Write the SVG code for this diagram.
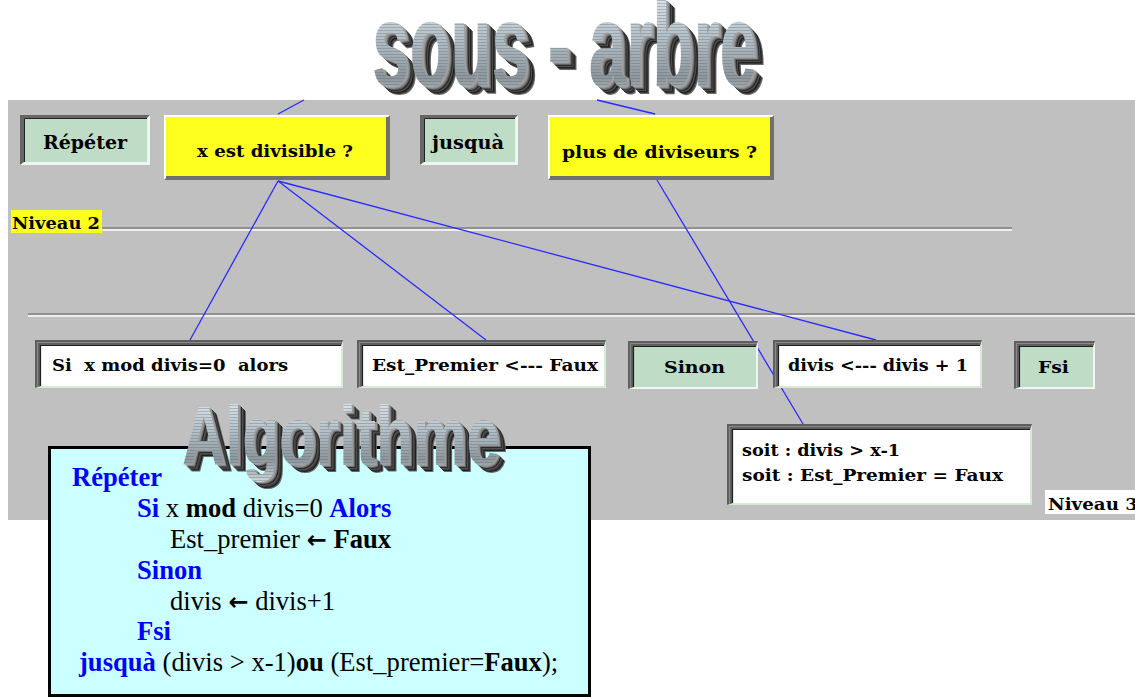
<svg xmlns="http://www.w3.org/2000/svg" width="1135" height="697" viewBox="0 0 1135 697">
<style>
.bx{font-family:"DejaVu Serif","Liberation Serif",serif;font-weight:bold;fill:#000}
.code{font-family:"Liberation Serif","Times New Roman",serif;font-size:26.6px;fill:#000}
.kw{fill:#0000ff;font-weight:bold}
.b{font-weight:bold}
.arr{font-family:"DejaVu Sans",sans-serif;font-weight:bold;font-size:24px}
.dark{fill:#666}
.lite{fill:#eef7ee}
.conn line{stroke:#2a2aff;stroke-width:1.3}
.wa{font-family:"Liberation Sans",Arial,sans-serif;font-weight:bold}
</style>
<defs>
<linearGradient id="metal" x1="0" y1="0" x2="0" y2="1">
<stop offset="0" stop-color="#eef3f6"/>
<stop offset="0.45" stop-color="#b4c0c8"/>
<stop offset="0.75" stop-color="#8c969c"/>
<stop offset="1" stop-color="#d4dce0"/>
</linearGradient>
<pattern id="stripes" width="4" height="3" patternUnits="userSpaceOnUse">
<rect width="4" height="1" fill="#5a6670" fill-opacity="0.35"/>
</pattern>
<text id="t1" class="wa" x="372" y="86" font-size="118" textLength="385" lengthAdjust="spacingAndGlyphs">sous - arbre</text>
<text id="t2" class="wa" x="182" y="465" font-size="84" textLength="318" lengthAdjust="spacingAndGlyphs">Algorithme</text>
</defs>
<rect width="1135" height="697" fill="#fff"/>
<rect x="8" y="100" width="1127" height="420" fill="#c0c0c0"/>

<g id="separators">
<line x1="102" y1="228" x2="1012" y2="228" stroke="#808080" stroke-width="1.5"/>
<line x1="102" y1="230" x2="1012" y2="230" stroke="#fff" stroke-width="1.5"/>
<line x1="28" y1="314" x2="1135" y2="314" stroke="#808080" stroke-width="1.5"/>
<line x1="28" y1="316" x2="1135" y2="316" stroke="#fff" stroke-width="1.5"/>
</g>

<g id="connectors" class="conn">
<line x1="278" y1="114" x2="304" y2="100"/>
<line x1="597" y1="100" x2="655" y2="114"/>
<line x1="278" y1="181" x2="190" y2="340"/>
<line x1="278" y1="181" x2="486" y2="340"/>
<line x1="278" y1="181" x2="876" y2="340"/>
<line x1="657" y1="180" x2="803" y2="424"/>
</g>

<g id="title">
<use href="#t1" x="9" y="8" fill="#6a6a6a"/>
<use href="#t1" x="8" y="7" fill="#3a3a3a"/>
<use href="#t1" x="7" y="6" fill="#202020"/>
<use href="#t1" x="6" y="5" fill="#505050"/>
<use href="#t1" x="5" y="4" fill="#2a2a2a"/>
<use href="#t1" x="4" y="3" fill="#606060"/>
<use href="#t1" x="3" y="2" fill="#8a8a8a"/>
<use href="#t1" x="2" y="1" fill="#a0a0a0"/>
<use href="#t1" fill="url(#metal)"/>
<use href="#t1" fill="url(#stripes)"/>
</g>

<g id="n-repeter">
<rect x="20" y="115" width="130" height="50" class="lite"/>
<path d="M20,115H150L147,118H24V162L20,165Z" class="dark"/>
<rect x="24" y="118" width="123" height="44" fill="#bfdcc6"/>
<path d="M24.5,162V118.5H147" fill="none" stroke="#222" stroke-width="1"/>
<text class="bx" x="43" y="149" font-size="18" textLength="84" lengthAdjust="spacingAndGlyphs">Répéter</text>
</g>

<g id="n-divisible">
<rect x="164" y="115" width="226" height="65" fill="#707070"/>
<path d="M164,115H390L388,117H166V178L164,180Z" fill="#fff"/>
<rect x="166" y="117" width="220" height="59" fill="#ffff1e"/>
<text class="bx" x="197" y="157" font-size="17" textLength="156" lengthAdjust="spacingAndGlyphs">x est divisible ?</text>
</g>

<g id="n-jusqua">
<rect x="420" y="115" width="98" height="50" class="lite"/>
<path d="M420,115H518L515,118H424V162L420,165Z" class="dark"/>
<rect x="424" y="118" width="91" height="44" fill="#bfdcc6"/>
<path d="M424.5,162V118.5H515" fill="none" stroke="#222" stroke-width="1"/>
<text class="bx" x="432" y="149" font-size="18" textLength="72" lengthAdjust="spacingAndGlyphs">jusquà</text>
</g>

<g id="n-diviseurs">
<rect x="548" y="115" width="226" height="65" fill="#707070"/>
<path d="M548,115H774L772,117H550V178L548,180Z" fill="#fff"/>
<rect x="550" y="117" width="220" height="59" fill="#ffff1e"/>
<text class="bx" x="562" y="158" font-size="17" textLength="195" lengthAdjust="spacingAndGlyphs">plus de diviseurs ?</text>
</g>

<g id="n-niveau2">
<rect x="11" y="210" width="91" height="23" fill="#ffff1e"/>
<text class="bx" x="12" y="229" font-size="17" textLength="88" lengthAdjust="spacingAndGlyphs">Niveau 2</text>
</g>

<g id="n-si">
<rect x="35" y="340" width="308" height="48" fill="#d6ead6"/>
<path d="M35,340H343L341,346H41V386L35,388Z" fill="#5e5e5e"/>
<rect x="41" y="346" width="300" height="40" fill="#fff"/>
<path d="M37.5,387V342.5H342" fill="none" stroke="#888" stroke-width="1.2"/>
<path d="M40.5,386V345.5H341" fill="none" stroke="#1e1e1e" stroke-width="1.2"/>
<text class="bx" x="52" y="371" font-size="17" textLength="236" lengthAdjust="spacingAndGlyphs" style="white-space:pre">Si  x mod divis=0  alors</text>
</g>

<g id="n-estpremier">
<rect x="357" y="340" width="249" height="48" fill="#d6ead6"/>
<path d="M357,340H606L604,346H363V386L357,388Z" fill="#5e5e5e"/>
<rect x="363" y="346" width="241" height="40" fill="#fff"/>
<path d="M359.5,387V342.5H605" fill="none" stroke="#888" stroke-width="1.2"/>
<path d="M362.5,386V345.5H604" fill="none" stroke="#1e1e1e" stroke-width="1.2"/>
<text class="bx" x="372" y="371" font-size="17" textLength="226" lengthAdjust="spacingAndGlyphs">Est_Premier &lt;--- Faux</text>
</g>

<g id="n-sinon">
<rect x="628" y="341" width="130" height="48" fill="#eef7ee"/>
<path d="M628,341H758L756,347H634V387L628,389Z" fill="#5e5e5e"/>
<rect x="634" y="347" width="122" height="40" fill="#bfdcc6"/>
<path d="M630.5,388V343.5H757" fill="none" stroke="#888" stroke-width="1.2"/>
<path d="M633.5,387V346.5H756" fill="none" stroke="#1e1e1e" stroke-width="1.2"/>
<text class="bx" x="664" y="373" font-size="17" textLength="61" lengthAdjust="spacingAndGlyphs">Sinon</text>
</g>

<g id="n-divis">
<rect x="773" y="340" width="209" height="48" fill="#d6ead6"/>
<path d="M773,340H982L980,346H779V386L773,388Z" fill="#5e5e5e"/>
<rect x="779" y="346" width="201" height="40" fill="#fff"/>
<path d="M775.5,387V342.5H981" fill="none" stroke="#888" stroke-width="1.2"/>
<path d="M778.5,386V345.5H980" fill="none" stroke="#1e1e1e" stroke-width="1.2"/>
<text class="bx" x="788" y="371" font-size="17" textLength="180" lengthAdjust="spacingAndGlyphs">divis &lt;--- divis + 1</text>
</g>

<g id="n-fsi">
<rect x="1014" y="341" width="81" height="48" fill="#eef7ee"/>
<path d="M1014,341H1095L1093,347H1020V387L1014,389Z" fill="#5e5e5e"/>
<rect x="1020" y="347" width="73" height="40" fill="#bfdcc6"/>
<path d="M1016.5,388V343.5H1094" fill="none" stroke="#888" stroke-width="1.2"/>
<path d="M1019.5,387V346.5H1093" fill="none" stroke="#1e1e1e" stroke-width="1.2"/>
<text class="bx" x="1038" y="373" font-size="17" textLength="31" lengthAdjust="spacingAndGlyphs">Fsi</text>
</g>

<g id="n-soit">
<rect x="727" y="424" width="305" height="81" fill="#d6ead6"/>
<path d="M727,424H1032L1030,430H733V503L727,505Z" fill="#5e5e5e"/>
<rect x="733" y="430" width="297" height="73" fill="#fff"/>
<path d="M729.5,504V426.5H1031" fill="none" stroke="#888" stroke-width="1.2"/>
<path d="M732.5,503V429.5H1030" fill="none" stroke="#1e1e1e" stroke-width="1.2"/>
<text class="bx" x="742" y="456" font-size="17" textLength="158" lengthAdjust="spacingAndGlyphs">soit : divis &gt; x-1</text>
<text class="bx" x="742" y="481" font-size="17" textLength="261" lengthAdjust="spacingAndGlyphs">soit : Est_Premier = Faux</text>
</g>

<g id="n-niveau3">
<rect x="1045" y="490" width="90" height="24" fill="#fff"/>
<text class="bx" x="1048" y="510" font-size="17" textLength="90" lengthAdjust="spacingAndGlyphs">Niveau 3</text>
</g>

<g id="algorithme">
<rect x="49.5" y="447.5" width="540" height="248" fill="#ccffff" stroke="#000" stroke-width="3"/>
<text class="code" x="72" y="486"><tspan class="kw">Répéter</tspan></text>
<text class="code" x="137" y="517"><tspan class="kw">Si</tspan> x <tspan class="b">mod</tspan> divis=0 <tspan class="kw">Alors</tspan></text>
<text class="code" x="170" y="548">Est_premier <tspan class="arr">←</tspan> <tspan class="b">Faux</tspan></text>
<text class="code" x="137" y="579"><tspan class="kw">Sinon</tspan></text>
<text class="code" x="170" y="610">divis <tspan class="arr">←</tspan> divis+1</text>
<text class="code" x="137" y="640"><tspan class="kw">Fsi</tspan></text>
<text class="code" x="79" y="671"><tspan class="kw">jusquà</tspan> (divis &gt; x-1)<tspan class="b">ou</tspan> (Est_premier=<tspan class="b">Faux</tspan>);</text>
</g>

<g id="title-algo">
<use href="#t2" x="8" y="7" fill="#6a6a6a"/>
<use href="#t2" x="7" y="6" fill="#202020"/>
<use href="#t2" x="6" y="5" fill="#3a3a3a"/>
<use href="#t2" x="5" y="4" fill="#505050"/>
<use href="#t2" x="4" y="3" fill="#2a2a2a"/>
<use href="#t2" x="3" y="2" fill="#707070"/>
<use href="#t2" x="2" y="1" fill="#9a9a9a"/>
<use href="#t2" fill="url(#metal)"/>
<use href="#t2" fill="url(#stripes)"/>
</g>
</svg>
